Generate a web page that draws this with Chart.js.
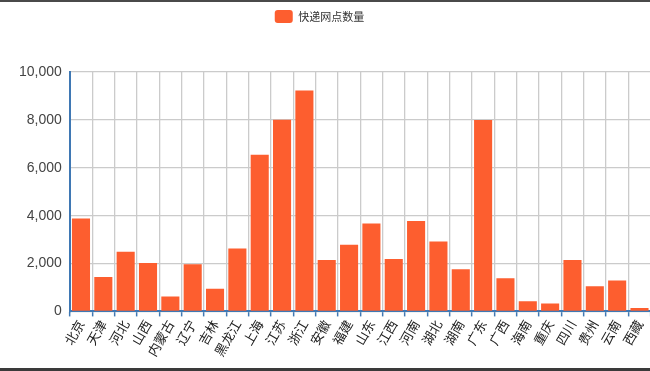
<!DOCTYPE html>
<html>
<head>
<meta charset="utf-8">
<script src="https://cdn.jsdelivr.net/npm/chart.js@4"></script>
<style>
  body { margin: 0; background: #fff; overflow: hidden; }
  #wrap {
    width: 650px; height: 366px;
    border-top: 2px solid #4a4a4a;
    border-bottom: 3px solid #3a3a3a;
    overflow: hidden;
  }
  #inner { width: 654px; height: 366px; position: relative; }
</style>
</head>
<body>
<div id="wrap"><div id="inner"><canvas id="myChart"></canvas></div></div>
<script>
// provinces (the picture is cut off after 西藏)
const provinces = ['北京', '天津', '河北', '山西', '内蒙古', '辽宁', '吉林', '黑龙江', '上海', '江苏',
  '浙江', '安徽', '福建', '山东', '江西', '河南', '湖北', '湖南', '广东', '广西',
  '海南', '重庆', '四川', '贵州', '云南', '西藏'];
// 快递网点数量
const outlets = [3880, 1440, 2490, 2020, 620, 1970, 950, 2630, 6540, 8010,
  9230, 2150, 2790, 3670, 2190, 3780, 2920, 1760, 7990, 1390,
  420, 330, 2150, 1050, 1290, 140];
const yTicks = [0, 2000, 4000, 6000, 8000, 10000];

const axisBlue = '#3f78b4';
const gridGrey = '#cbcbcb';
const cjk = '"Noto Sans CJK SC", "Noto Sans", sans-serif';

// push the plot down below the legend, and nudge the legend a bit left
const legendSpacer = {
  id: 'legendSpacer',
  beforeInit(chart) {
    const fit = chart.legend.fit;
    chart.legend.fit = function () {
      fit.bind(chart.legend)();
      this.height += 39;
      if (this.lineWidths && this.lineWidths.length) this.lineWidths[0] += 26;
    };
  }
};

function mainEvent() {
  const ctx = document.querySelector('#myChart');
  new Chart(ctx, {
    type: 'bar',
    data: {
      labels: provinces,
      datasets: [{
        label: '快递网点数量',
        data: outlets,
        backgroundColor: '#fd5e2f',
        borderWidth: 0,
        barPercentage: 0.9,
        categoryPercentage: 0.9
      }]
    },
    options: {
      responsive: true,
      maintainAspectRatio: false,
      animation: false,
      locale: 'en-US',
      layout: { padding: { left: 11, right: 0, top: 0, bottom: 8 } },
      plugins: {
        tooltip: { enabled: false },
        legend: {
          labels: {
            color: '#333',
            font: { family: cjk, size: 11 },
            boxWidth: 18,
            boxHeight: 13,
            padding: 8,
            useBorderRadius: true,
            borderRadius: 3
          }
        }
      },
      scales: {
        x: {
          grid: {
            color: gridGrey,
            lineWidth: 1.3,
            offset: true,
            tickColor: axisBlue,
            tickLength: 5,
            tickWidth: 1.5
          },
          border: { color: axisBlue, width: 2 },
          ticks: {
            color: '#222',
            font: { family: cjk, size: 13 },
            minRotation: 60,
            maxRotation: 60,
            autoSkip: false,
            padding: 1
          }
        },
        y: {
          min: 0,
          max: 10000,
          afterBuildTicks(axis) {
            axis.ticks = yTicks.map(v => ({ value: v }));
          },
          grid: { color: gridGrey, lineWidth: 1.3, drawTicks: false },
          border: { color: axisBlue, width: 2 },
          ticks: {
            color: '#444',
            font: { family: '"Liberation Sans", Arial, sans-serif', size: 14 },
            padding: 8
          }
        }
      }
    },
    plugins: [legendSpacer]
  });
}

mainEvent();
</script>
</body>
</html>
